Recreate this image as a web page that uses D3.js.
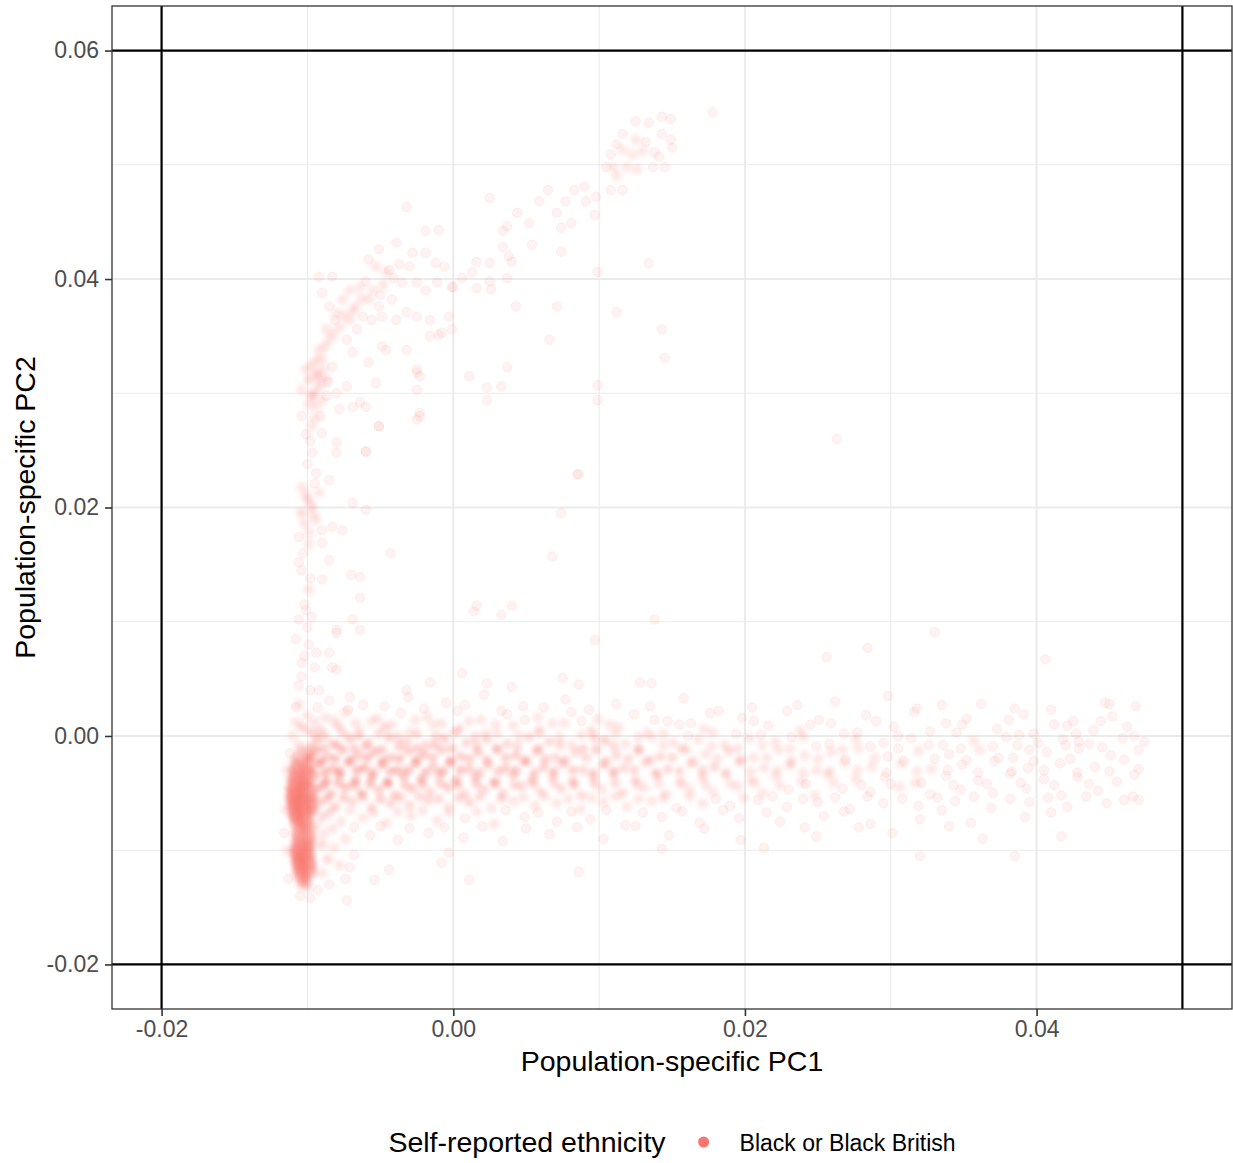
<!DOCTYPE html>
<html>
<head>
<meta charset="utf-8">
<script src="https://cdn.jsdelivr.net/npm/d3@7"></script>
<style>
  body { margin: 0; background: #fff; }
  text { font-family: "Liberation Sans", Arial, sans-serif; }
</style>
</head>
<body>
<div id="chart"></div>
<script>
var width = 1233;
var height = 1163;

// axis setup
var xDomain = [-0.0234, 0.0534];
var yDomain = [-0.0239, 0.0639];
var xMajor = [-0.02, 0.00, 0.02, 0.04];
var yMajor = [-0.02, 0.00, 0.02, 0.04, 0.06];
var xMinor = [-0.01, 0.01, 0.03, 0.05];
var yMinor = [-0.01, 0.01, 0.03, 0.05];
var vLines = [-0.02, 0.05];
var hLines = [-0.02, 0.06];

var xTitle = "Population-specific PC1";
var yTitle = "Population-specific PC2";
var legendTitle = "Self-reported ethnicity";
var groups = ["Black or Black British"];
var groupColour = "#F8766D";

// points as [PC1, PC2, n] where n = how many samples overlap on that spot
var spine = [
  [-0.0106,-0.0008,2],[-0.0101,-0.0012,3],[-0.0105,-0.0013,3],[-0.0100,-0.0016,3],
  [-0.0107,-0.0018,4],[-0.0102,-0.0020,5],[-0.0097,-0.0017,3],
  [-0.0109,-0.0022,5],[-0.0104,-0.0024,7],[-0.0099,-0.0021,4],
  [-0.0108,-0.0026,6],[-0.0103,-0.0028,8],[-0.0098,-0.0025,4],
  [-0.0110,-0.0030,7],[-0.0105,-0.0032,10],[-0.0100,-0.0029,6],
  [-0.0109,-0.0034,8],[-0.0104,-0.0036,10],[-0.0099,-0.0033,6],
  [-0.0111,-0.0038,8],[-0.0106,-0.0040,12],[-0.0101,-0.0037,8],
  [-0.0110,-0.0042,9],[-0.0105,-0.0044,13],[-0.0100,-0.0041,8],
  [-0.0112,-0.0046,9],[-0.0107,-0.0048,15],[-0.0102,-0.0045,10],[-0.0097,-0.0047,5],
  [-0.0111,-0.0050,10],[-0.0106,-0.0052,16],[-0.0101,-0.0049,10],[-0.0096,-0.0053,5],
  [-0.0112,-0.0054,10],[-0.0107,-0.0056,17],[-0.0102,-0.0053,12],[-0.0097,-0.0057,6],
  [-0.0111,-0.0058,11],[-0.0106,-0.0060,17],[-0.0101,-0.0057,11],[-0.0096,-0.0061,5],
  [-0.0111,-0.0062,10],[-0.0106,-0.0064,17],[-0.0101,-0.0061,12],[-0.0096,-0.0065,5],
  [-0.0110,-0.0066,10],[-0.0105,-0.0068,16],[-0.0100,-0.0065,10],
  [-0.0110,-0.0070,9],[-0.0105,-0.0072,14],[-0.0100,-0.0069,9],
  [-0.0109,-0.0074,8],[-0.0104,-0.0076,12],[-0.0099,-0.0073,7],
  [-0.0108,-0.0078,6],[-0.0103,-0.0080,10],[-0.0099,-0.0077,6],
  [-0.0107,-0.0082,5],[-0.0102,-0.0084,7],[-0.0098,-0.0081,4],
  [-0.0108,-0.0086,6],[-0.0103,-0.0088,8],[-0.0098,-0.0085,5],
  [-0.0107,-0.0090,7],[-0.0102,-0.0092,9],[-0.0097,-0.0089,5],
  [-0.0108,-0.0094,8],[-0.0103,-0.0096,12],[-0.0098,-0.0093,7],
  [-0.0108,-0.0098,10],[-0.0103,-0.0100,14],[-0.0098,-0.0097,8],
  [-0.0109,-0.0102,10],[-0.0104,-0.0104,15],[-0.0099,-0.0101,9],
  [-0.0108,-0.0106,11],[-0.0103,-0.0108,16],[-0.0098,-0.0105,9],
  [-0.0108,-0.0110,11],[-0.0103,-0.0112,16],[-0.0098,-0.0109,8],
  [-0.0107,-0.0114,10],[-0.0102,-0.0116,14],[-0.0097,-0.0113,7],
  [-0.0107,-0.0118,9],[-0.0102,-0.0120,12],[-0.0097,-0.0117,6],
  [-0.0106,-0.0122,7],[-0.0101,-0.0124,9],[-0.0097,-0.0121,4],
  [-0.0105,-0.0126,5],[-0.0101,-0.0128,6],
  [-0.0104,-0.0130,4],[-0.0100,-0.0132,3]
];

var spineFringe = [
  [-0.0114,-0.0030,2],[-0.0115,-0.0065,2],[-0.0114,-0.0100,2],[-0.0113,-0.0125,1],
  [-0.0112,-0.0015,1],[-0.0116,-0.0085,1],
  [-0.0090,-0.0095,3],[-0.0086,-0.0108,3],[-0.0090,-0.0120,2],[-0.0082,-0.0098,2],
  [-0.0078,-0.0113,2],[-0.0074,-0.0125,1],[-0.0085,-0.0130,1],[-0.0068,-0.0104,1],
  [-0.0093,-0.0135,1],[-0.0105,-0.0140,1],[-0.0098,-0.0142,1]
];

var band = [
  [-0.0085,0.0031,1],[-0.0062,0.0027,1],[-0.0031,0.0034,1],[-0.0005,0.0029,1],[0.0021,0.0036,1],[0.0048,0.0026,1],[0.0077,0.0032,1],[0.0112,0.0028,1],[0.0158,0.0033,1],[0.0205,0.0025,1],[0.0262,0.0030,1],[0.0298,0.0035,1],[0.0335,0.0027,1],[0.0385,0.0024,1],[0.0447,0.0029,1],[0.0468,0.0026,1],
  [-0.0093,0.0025,1],[-0.0072,0.0023,1],[-0.0047,0.0026,1],[-0.0020,0.0024,1],[0.0008,0.0027,1],[0.0033,0.0022,1],[0.0062,0.0025,1],[0.0093,0.0023,1],[0.0135,0.0026,1],[0.0182,0.0022,1],[0.0236,0.0027,1],[0.0318,0.0024,1],[0.0362,0.0028,1],[0.0410,0.0023,1],
  [-0.0088,0.0016,2],[-0.0074,0.0021,2],[-0.0052,0.0015,2],[-0.0036,0.0020,1],[-0.0018,0.0017,2],[0.0003,0.0022,1],[0.0019,0.0014,2],[0.0037,0.0019,1],[0.0058,0.0016,2],[0.0081,0.0021,1],[0.0099,0.0015,2],[0.0124,0.0019,1],[0.0147,0.0013,1],[0.0176,0.0020,1],[0.0198,0.0016,1],[0.0229,0.0022,1],[0.0251,0.0014,1],[0.0283,0.0018,1],[0.0316,0.0021,1],[0.0352,0.0015,1],[0.0391,0.0019,1],[0.0425,0.0013,1],[0.0452,0.0017,1],
  [-0.0095,0.0012,2],[-0.0082,0.0014,2],[-0.0067,0.0011,2],[-0.0056,0.0013,2],[-0.0042,0.0010,2],[-0.0026,0.0014,2],[-0.0008,0.0011,2],[0.0011,0.0013,2],[0.0029,0.0010,2],[0.0049,0.0014,1],[0.0068,0.0011,2],[0.0088,0.0013,1],[0.0107,0.0010,2],[0.0138,0.0014,1],[0.0163,0.0011,1],[0.0206,0.0013,1],[0.0245,0.0010,1],[0.0290,0.0013,1],[0.0338,0.0011,1],[0.0381,0.0014,1],[0.0412,0.0010,1],[0.0444,0.0013,1],
  [-0.0091,0.0005,3],[-0.0079,0.0009,3],[-0.0064,0.0004,2],[-0.0047,0.0008,3],[-0.0030,0.0003,2],[-0.0014,0.0010,2],[0.0004,0.0006,3],[0.0022,0.0002,2],[0.0041,0.0009,2],[0.0059,0.0005,2],[0.0076,0.0011,2],[0.0095,0.0004,3],[0.0113,0.0008,2],[0.0133,0.0003,2],[0.0155,0.0010,1],[0.0172,0.0006,2],[0.0194,0.0002,1],[0.0216,0.0009,1],[0.0238,0.0005,2],[0.0259,0.0011,1],[0.0277,0.0003,1],[0.0302,0.0008,1],[0.0327,0.0004,1],[0.0349,0.0010,1],[0.0373,0.0006,1],[0.0398,0.0002,1],[0.0421,0.0009,1],[0.0439,0.0005,1],[0.0462,0.0008,1],
  [-0.0096,0.0002,3],[-0.0088,0.0000,3],[-0.0076,0.0003,3],[-0.0065,0.0000,3],[-0.0051,0.0002,3],[-0.0038,-0.0001,3],[-0.0025,0.0002,3],[-0.0012,0.0000,3],[0.0001,0.0003,3],[0.0015,-0.0001,3],[0.0030,0.0002,2],[0.0045,0.0000,2],[0.0059,0.0003,2],[0.0073,-0.0001,2],[0.0088,0.0001,2],[0.0111,0.0002,2],[0.0127,-0.0001,2],[0.0144,0.0002,2],[0.0161,0.0000,1],[0.0178,0.0003,2],[0.0211,0.0001,1],[0.0232,-0.0001,1],[0.0268,0.0002,1],[0.0305,0.0000,1],[0.0345,0.0003,1],[0.0388,0.0001,1],[0.0427,0.0002,1],[0.0467,0.0000,1],
  [-0.0093,-0.0003,4],[-0.0083,-0.0007,3],[-0.0071,-0.0002,4],[-0.0058,-0.0006,3],[-0.0044,-0.0001,4],[-0.0032,-0.0005,3],[-0.0019,-0.0008,3],[-0.0006,-0.0002,4],[0.0009,-0.0006,3],[0.0023,-0.0003,3],[0.0037,-0.0007,3],[0.0052,-0.0001,3],[0.0066,-0.0005,3],[0.0081,-0.0008,2],[0.0097,-0.0002,3],[0.0104,-0.0004,4],[0.0118,-0.0007,2],[0.0136,-0.0001,2],[0.0151,-0.0006,2],[0.0168,-0.0003,2],[0.0186,-0.0008,2],[0.0203,-0.0002,2],[0.0221,-0.0005,2],[0.0240,-0.0001,2],[0.0258,-0.0007,1],[0.0276,-0.0003,2],[0.0295,-0.0006,1],[0.0314,-0.0002,1],[0.0336,-0.0008,1],[0.0357,-0.0004,2],[0.0379,-0.0001,1],[0.0401,-0.0006,1],[0.0418,-0.0003,1],[0.0436,-0.0007,1],[0.0459,-0.0002,1],[0.0474,-0.0005,1],
  [-0.0097,-0.0009,4],[-0.0089,-0.0011,4],[-0.0080,-0.0008,4],[-0.0068,-0.0011,4],[-0.0060,-0.0009,4],[-0.0049,-0.0012,4],[-0.0037,-0.0009,4],[-0.0025,-0.0011,4],[-0.0013,-0.0008,4],[-0.0001,-0.0011,4],[0.0016,-0.0009,3],[0.0030,-0.0012,3],[0.0044,-0.0009,3],[0.0059,-0.0011,3],[0.0073,-0.0008,3],[0.0089,-0.0011,3],[0.0110,-0.0009,3],[0.0127,-0.0011,3],[0.0144,-0.0008,2],[0.0160,-0.0012,2],[0.0177,-0.0009,2],[0.0195,-0.0011,2],[0.0212,-0.0008,2],[0.0231,-0.0011,2],[0.0249,-0.0009,1],[0.0267,-0.0012,2],[0.0286,-0.0009,1],[0.0305,-0.0011,1],[0.0326,-0.0008,1],[0.0348,-0.0011,1],[0.0370,-0.0009,1],[0.0395,-0.0012,1],[0.0420,-0.0008,1],[0.0445,-0.0010,1],[0.0470,-0.0012,1],
  [-0.0094,-0.0013,5],[-0.0086,-0.0018,4],[-0.0076,-0.0012,5],[-0.0065,-0.0017,4],[-0.0054,-0.0014,5],[-0.0043,-0.0019,4],[-0.0031,-0.0013,4],[-0.0020,-0.0016,5],[-0.0008,-0.0012,4],[0.0005,-0.0018,4],[0.0017,-0.0014,4],[0.0030,-0.0011,3],[0.0043,-0.0017,4],[0.0057,-0.0013,4],[0.0070,-0.0019,3],[0.0084,-0.0014,3],[0.0098,-0.0012,4],[0.0112,-0.0017,3],[0.0127,-0.0013,3],[0.0142,-0.0018,3],[0.0157,-0.0011,3],[0.0173,-0.0016,2],[0.0189,-0.0013,3],[0.0206,-0.0019,2],[0.0223,-0.0012,2],[0.0241,-0.0017,2],[0.0259,-0.0014,2],[0.0278,-0.0011,2],[0.0298,-0.0018,1],[0.0319,-0.0013,2],[0.0340,-0.0016,1],[0.0361,-0.0012,2],[0.0384,-0.0019,1],[0.0407,-0.0014,1],[0.0429,-0.0011,1],[0.0451,-0.0017,1],
  [-0.0098,-0.0019,5],[-0.0090,-0.0022,5],[-0.0081,-0.0020,5],[-0.0070,-0.0021,5],[-0.0059,-0.0019,5],[-0.0048,-0.0022,5],[-0.0037,-0.0020,5],[-0.0025,-0.0021,5],[-0.0014,-0.0019,4],[-0.0002,-0.0022,4],[0.0011,-0.0020,4],[0.0023,-0.0021,4],[0.0036,-0.0019,4],[0.0050,-0.0022,4],[0.0063,-0.0020,4],[0.0077,-0.0021,3],[0.0091,-0.0019,3],[0.0105,-0.0022,3],[0.0120,-0.0020,3],[0.0135,-0.0021,3],[0.0150,-0.0019,3],[0.0165,-0.0022,2],[0.0181,-0.0020,2],[0.0198,-0.0021,2],[0.0215,-0.0019,2],[0.0232,-0.0022,2],[0.0250,-0.0020,2],[0.0269,-0.0021,1],[0.0289,-0.0019,2],[0.0309,-0.0022,1],[0.0330,-0.0020,1],[0.0352,-0.0021,1],[0.0374,-0.0019,1],[0.0398,-0.0022,1],[0.0423,-0.0020,1],[0.0460,-0.0021,1],
  [-0.0092,-0.0024,6],[-0.0083,-0.0029,5],[-0.0072,-0.0023,5],[-0.0061,-0.0028,6],[-0.0049,-0.0025,5],[-0.0038,-0.0030,5],[-0.0026,-0.0024,5],[-0.0014,-0.0027,4],[-0.0002,-0.0023,5],[0.0011,-0.0029,4],[0.0024,-0.0025,4],[0.0036,-0.0028,4],[0.0049,-0.0022,4],[0.0062,-0.0027,4],[0.0075,-0.0024,4],[0.0089,-0.0030,3],[0.0103,-0.0025,4],[0.0117,-0.0028,3],[0.0132,-0.0023,3],[0.0147,-0.0029,3],[0.0163,-0.0024,3],[0.0179,-0.0027,3],[0.0196,-0.0022,3],[0.0213,-0.0028,2],[0.0231,-0.0025,3],[0.0249,-0.0030,2],[0.0268,-0.0023,2],[0.0287,-0.0027,2],[0.0307,-0.0024,2],[0.0328,-0.0029,2],[0.0349,-0.0025,1],[0.0371,-0.0022,1],[0.0394,-0.0028,1],[0.0416,-0.0024,1],[0.0440,-0.0027,1],
  [-0.0097,-0.0030,6],[-0.0088,-0.0032,6],[-0.0078,-0.0031,6],[-0.0066,-0.0030,6],[-0.0055,-0.0032,5],[-0.0043,-0.0031,5],[-0.0031,-0.0030,5],[-0.0019,-0.0032,5],[-0.0007,-0.0031,5],[0.0005,-0.0030,5],[0.0018,-0.0032,4],[0.0031,-0.0031,4],[0.0043,-0.0030,4],[0.0056,-0.0032,4],[0.0069,-0.0031,4],[0.0082,-0.0030,4],[0.0096,-0.0032,3],[0.0110,-0.0031,3],[0.0124,-0.0030,3],[0.0139,-0.0032,3],[0.0155,-0.0031,3],[0.0171,-0.0030,3],[0.0187,-0.0032,2],[0.0204,-0.0031,2],[0.0222,-0.0030,2],[0.0240,-0.0032,2],[0.0258,-0.0031,2],[0.0277,-0.0030,2],[0.0297,-0.0032,1],[0.0318,-0.0031,2],[0.0339,-0.0030,1],[0.0360,-0.0032,1],[0.0383,-0.0031,1],[0.0405,-0.0030,1],[0.0428,-0.0032,1],[0.0450,-0.0031,1],[0.0470,-0.0029,1],
  [-0.0095,-0.0035,6],[-0.0087,-0.0040,6],[-0.0078,-0.0034,5],[-0.0067,-0.0039,6],[-0.0056,-0.0036,5],[-0.0045,-0.0041,5],[-0.0034,-0.0035,5],[-0.0022,-0.0038,5],[-0.0010,-0.0033,4],[0.0002,-0.0039,5],[0.0015,-0.0036,4],[0.0028,-0.0041,4],[0.0041,-0.0034,4],[0.0054,-0.0038,4],[0.0068,-0.0035,3],[0.0082,-0.0040,4],[0.0096,-0.0036,3],[0.0110,-0.0033,3],[0.0125,-0.0039,3],[0.0140,-0.0035,3],[0.0155,-0.0041,2],[0.0171,-0.0036,3],[0.0187,-0.0034,2],[0.0204,-0.0039,2],[0.0221,-0.0035,2],[0.0239,-0.0040,2],[0.0257,-0.0034,2],[0.0276,-0.0038,2],[0.0296,-0.0036,1],[0.0317,-0.0041,2],[0.0338,-0.0035,1],[0.0360,-0.0039,1],[0.0382,-0.0033,1],[0.0405,-0.0038,1],[0.0428,-0.0036,1],[0.0455,-0.0040,1],
  [-0.0098,-0.0042,6],[-0.0089,-0.0043,5],[-0.0079,-0.0041,5],[-0.0068,-0.0043,5],[-0.0057,-0.0042,5],[-0.0045,-0.0041,5],[-0.0033,-0.0043,4],[-0.0021,-0.0042,4],[-0.0009,-0.0041,4],[0.0003,-0.0043,4],[0.0016,-0.0042,4],[0.0029,-0.0041,4],[0.0042,-0.0043,3],[0.0055,-0.0042,3],[0.0069,-0.0041,3],[0.0083,-0.0043,3],[0.0097,-0.0042,3],[0.0111,-0.0041,3],[0.0126,-0.0043,2],[0.0141,-0.0042,2],[0.0157,-0.0041,2],[0.0173,-0.0043,2],[0.0190,-0.0042,2],[0.0207,-0.0041,2],[0.0224,-0.0043,2],[0.0242,-0.0042,1],[0.0261,-0.0041,2],[0.0280,-0.0043,1],[0.0300,-0.0042,1],[0.0321,-0.0041,1],[0.0343,-0.0043,1],[0.0366,-0.0042,1],[0.0389,-0.0041,1],[0.0412,-0.0043,1],[0.0436,-0.0042,1],
  [-0.0093,-0.0046,5],[-0.0084,-0.0051,5],[-0.0074,-0.0045,5],[-0.0063,-0.0050,4],[-0.0051,-0.0047,4],[-0.0040,-0.0052,4],[-0.0028,-0.0046,4],[-0.0016,-0.0049,3],[-0.0004,-0.0045,4],[0.0008,-0.0051,3],[0.0021,-0.0047,3],[0.0034,-0.0050,3],[0.0047,-0.0044,3],[0.0060,-0.0049,3],[0.0074,-0.0046,3],[0.0088,-0.0052,3],[0.0102,-0.0047,2],[0.0116,-0.0050,3],[0.0131,-0.0045,2],[0.0146,-0.0051,2],[0.0162,-0.0047,2],[0.0178,-0.0049,2],[0.0195,-0.0044,2],[0.0212,-0.0050,2],[0.0230,-0.0047,1],[0.0248,-0.0052,2],[0.0267,-0.0046,1],[0.0286,-0.0049,1],[0.0306,-0.0045,2],[0.0327,-0.0051,1],[0.0348,-0.0047,1],[0.0370,-0.0050,1],[0.0393,-0.0046,1],[0.0417,-0.0052,1],[0.0442,-0.0048,1],[0.0466,-0.0053,1],
  [-0.0097,-0.0053,5],[-0.0087,-0.0055,4],[-0.0075,-0.0054,4],[-0.0062,-0.0053,4],[-0.0050,-0.0055,4],[-0.0036,-0.0054,3],[-0.0023,-0.0053,3],[-0.0010,-0.0055,3],[0.0004,-0.0054,3],[0.0018,-0.0053,3],[0.0033,-0.0055,3],[0.0048,-0.0054,2],[0.0063,-0.0053,2],[0.0079,-0.0055,2],[0.0095,-0.0054,2],[0.0111,-0.0053,2],[0.0127,-0.0055,2],[0.0144,-0.0054,2],[0.0162,-0.0053,2],[0.0180,-0.0055,1],[0.0199,-0.0054,2],[0.0219,-0.0053,1],[0.0240,-0.0055,1],[0.0262,-0.0054,1],[0.0284,-0.0053,1],[0.0308,-0.0055,1],[0.0332,-0.0054,1],[0.0357,-0.0053,1],[0.0382,-0.0055,1],[0.0408,-0.0054,1],[0.0434,-0.0053,1],[0.0460,-0.0056,1],
  [-0.0092,-0.0058,4],[-0.0081,-0.0062,4],[-0.0069,-0.0057,3],[-0.0056,-0.0063,3],[-0.0043,-0.0059,3],[-0.0030,-0.0061,3],[-0.0017,-0.0056,3],[-0.0003,-0.0062,2],[0.0011,-0.0058,3],[0.0026,-0.0063,2],[0.0041,-0.0057,2],[0.0056,-0.0061,2],[0.0071,-0.0059,2],[0.0087,-0.0064,2],[0.0103,-0.0058,2],[0.0119,-0.0062,2],[0.0136,-0.0057,2],[0.0153,-0.0063,1],[0.0171,-0.0059,2],[0.0190,-0.0061,1],[0.0209,-0.0056,1],[0.0229,-0.0062,1],[0.0250,-0.0058,1],[0.0272,-0.0064,1],[0.0295,-0.0059,1],[0.0319,-0.0061,1],[0.0344,-0.0057,1],[0.0369,-0.0063,1],[0.0395,-0.0058,1],[0.0421,-0.0062,1],[0.0448,-0.0059,1],
  [-0.0096,-0.0066,3],[-0.0085,-0.0067,3],[-0.0071,-0.0065,2],[-0.0055,-0.0067,2],[-0.0038,-0.0066,2],[-0.0021,-0.0065,2],[-0.0003,-0.0067,2],[0.0016,-0.0066,2],[0.0036,-0.0065,1],[0.0058,-0.0067,1],[0.0081,-0.0066,1],[0.0105,-0.0065,1],[0.0130,-0.0067,1],[0.0157,-0.0066,1],[0.0185,-0.0065,1],[0.0215,-0.0067,1],[0.0268,-0.0066,1],[0.0335,-0.0065,1],[0.0410,-0.0067,1],
  [-0.0090,-0.0071,3],[-0.0077,-0.0075,2],[-0.0062,-0.0072,2],[-0.0046,-0.0076,2],[-0.0029,-0.0070,2],[-0.0011,-0.0074,2],[0.0008,-0.0072,1],[0.0028,-0.0077,2],[0.0049,-0.0071,1],[0.0071,-0.0075,1],[0.0094,-0.0073,1],[0.0118,-0.0078,1],[0.0143,-0.0071,1],[0.0169,-0.0076,1],[0.0196,-0.0072,1],[0.0224,-0.0075,1],[0.0254,-0.0070,1],[0.0286,-0.0077,1],[0.0320,-0.0073,1],[0.0355,-0.0076,1],[0.0392,-0.0071,1],
  [-0.0094,-0.0079,2],[-0.0083,-0.0081,2],[-0.0068,-0.0080,1],[-0.0050,-0.0079,1],[-0.0030,-0.0081,1],[-0.0006,-0.0080,1],[0.0020,-0.0079,1],[0.0050,-0.0081,1],[0.0085,-0.0080,1],[0.0125,-0.0079,1],[0.0172,-0.0081,1],[0.0278,-0.0080,1],[0.0340,-0.0079,1],
  [-0.0089,-0.0086,2],[-0.0074,-0.0090,2],[-0.0057,-0.0087,1],[-0.0038,-0.0091,1],[-0.0017,-0.0085,1],[0.0007,-0.0089,1],[0.0034,-0.0092,1],[0.0066,-0.0086,1],[0.0103,-0.0090,1],[0.0148,-0.0087,1],[0.0197,-0.0091,1],[0.0249,-0.0088,1],[0.0301,-0.0085,1],[0.0363,-0.0090,1]
];

var bandHalo = [
  [-0.0016,0.0047,1],[-0.0032,0.0040,1],[0.0023,0.0046,1],[0.0040,0.0043,1],[0.0006,0.0055,1],
  [0.0075,0.0051,1],[0.0086,0.0045,1],[0.0128,0.0047,1],[0.0136,0.0046,1],
  [-0.0080,0.0090,1],[-0.0083,0.0060,1],[-0.0071,0.0034,1],
  [0.0097,0.0084,1],[0.0138,0.0102,1],[0.0330,0.0091,1],[0.0284,0.0077,1],[0.0256,0.0069,1],
  [0.0016,0.0114,1],[0.0040,0.0114,1],[0.0014,0.0109,1],[-0.0064,0.0093,1],
  [-0.0085,0.0154,1],[-0.0070,0.0141,1],[-0.0043,0.0160,1],[0.0068,0.0157,1],[0.0074,0.0195,1],
  [0.0033,0.0106,1],[0.0263,0.0260,1],[0.0086,0.0229,1],
  [-0.0071,-0.0115,1],[-0.0054,-0.0126,1],[-0.0044,-0.0117,1],[0.0011,-0.0126,1],[-0.0008,-0.0111,1],
  [-0.0003,-0.0102,1],[0.0086,-0.0119,1],[-0.0073,-0.0144,1],[0.0143,-0.0099,1],[0.0213,-0.0098,1],
  [0.0241,-0.0080,1],[0.0320,-0.0105,1],[0.0385,-0.0105,1],[0.0417,-0.0088,1],[0.0470,-0.0056,1],
  [0.0467,-0.0034,1],[0.0450,0.0028,1],[0.0406,0.0067,1],[0.0429,-0.0005,1],[0.0387,-0.0008,1]
];

var arm = [
  [-0.0110,0.0000,2],[-0.0100,0.0005,2],[-0.0108,0.0012,2],
  [-0.0104,0.0008,3],[-0.0100,0.0018,2],[-0.0106,0.0028,2],[-0.0098,0.0040,1],[-0.0104,0.0052,1],
  [-0.0094,0.0073,1],[-0.0104,0.0064,1],[-0.0085,0.0073,1],[-0.0080,0.0058,1],[-0.0108,0.0085,1],
  [-0.0100,0.0095,1],[-0.0092,0.0040,1],[-0.0108,0.0025,1],
  [-0.0106,0.0044,1],[-0.0102,0.0070,1],[-0.0099,0.0080,1],[-0.0106,0.0102,1],[-0.0095,0.0060,1],
  [-0.0099,0.0128,2],[-0.0101,0.0110,1],[-0.0097,0.0104,1],[-0.0104,0.0145,1],[-0.0106,0.0152,1],
  [-0.0090,0.0137,1],[-0.0080,0.0093,1],[-0.0064,0.0139,1],[-0.0064,0.0121,1],[-0.0069,0.0102,1],
  [-0.0102,0.0115,1],[-0.0098,0.0138,1],[-0.0103,0.0160,1],[-0.0099,0.0168,2],[-0.0102,0.0186,2],
  [-0.0096,0.0194,2],[-0.0101,0.0212,2],[-0.0095,0.0221,1],[-0.0100,0.0238,1],[-0.0098,0.0258,1],
  [-0.0100,0.0207,3],[-0.0104,0.0195,3],[-0.0097,0.0201,3],[-0.0094,0.0189,2],[-0.0099,0.0178,2],
  [-0.0106,0.0174,1],[-0.0092,0.0213,2],[-0.0104,0.0218,2],[-0.0090,0.0180,1],[-0.0083,0.0183,1],
  [-0.0076,0.0180,1],[-0.0069,0.0204,1],[-0.0060,0.0198,1],[-0.0090,0.0169,1],[-0.0085,0.0224,1],
  [-0.0094,0.0230,1],[-0.0097,0.0248,1],[-0.0080,0.0248,1],[-0.0060,0.0249,1],[-0.0080,0.0257,1],
  [-0.0101,0.0264,1],[-0.0095,0.0278,2],[-0.0099,0.0290,2],[-0.0096,0.0300,3],[-0.0092,0.0314,3],
  [-0.0097,0.0325,2],[-0.0089,0.0321,2],[-0.0087,0.0298,1],[-0.0091,0.0280,1],[-0.0086,0.0310,1],
  [-0.0097,0.0271,2],[-0.0104,0.0280,1],[-0.0090,0.0265,1],[-0.0078,0.0286,1],[-0.0069,0.0288,1],
  [-0.0060,0.0288,1],[-0.0051,0.0271,1],
  [-0.0094,0.0318,3],[-0.0099,0.0312,3],[-0.0092,0.0306,3],[-0.0097,0.0297,3],[-0.0090,0.0294,2],
  [-0.0101,0.0321,2],[-0.0087,0.0312,2],[-0.0094,0.0329,2],[-0.0104,0.0303,2],[-0.0094,0.0288,2],
  [-0.0080,0.0300,1],[-0.0073,0.0306,1],[-0.0083,0.0323,1],[-0.0064,0.0292,1],[-0.0053,0.0309,1],
  [-0.0058,0.0327,1]
];

var curve = [
  [-0.0090,0.0330,2],[-0.0088,0.0341,2],[-0.0082,0.0352,2],[-0.0075,0.0368,2],[-0.0069,0.0372,2],
  [-0.0063,0.0383,2],[-0.0055,0.0390,2],[-0.0048,0.0395,2],[-0.0041,0.0401,1],[-0.0037,0.0413,1],
  [-0.0081,0.0364,1],[-0.0066,0.0356,1],[-0.0060,0.0398,1],[-0.0050,0.0386,1],
  [-0.0092,0.0338,2],[-0.0085,0.0347,2],[-0.0087,0.0356,2],[-0.0078,0.0358,2],[-0.0073,0.0347,1],
  [-0.0071,0.0364,2],[-0.0080,0.0370,2],[-0.0085,0.0376,1],[-0.0076,0.0382,2],[-0.0067,0.0376,2],
  [-0.0062,0.0367,1],[-0.0058,0.0382,2],[-0.0051,0.0376,1],[-0.0049,0.0367,1],[-0.0056,0.0364,1],
  [-0.0042,0.0382,1],[-0.0090,0.0388,1],[-0.0092,0.0402,1],[-0.0083,0.0402,1],[-0.0071,0.0390,2],
  [-0.0064,0.0393,2],[-0.0058,0.0417,1],[-0.0053,0.0411,2],[-0.0046,0.0406,2],[-0.0051,0.0426,1],
  [-0.0039,0.0432,1],[-0.0044,0.0408,1],[-0.0035,0.0397,1],[-0.0030,0.0411,1],[-0.0025,0.0397,1],
  [-0.0019,0.0390,1],[-0.0016,0.0364,1],[-0.0008,0.0353,1],[-0.0012,0.0414,1],[-0.0028,0.0423,1],
  [-0.0003,0.0367,1],[-0.0019,0.0423,1],[0.0000,0.0393,1],[-0.0025,0.0367,1],[-0.0039,0.0364,1],
  [-0.0049,0.0341,1],[-0.0069,0.0336,1],[-0.0046,0.0338,1],[-0.0032,0.0338,1],[-0.0025,0.0321,1],
  [-0.0023,0.0315,1],[-0.0025,0.0277,1],[-0.0023,0.0283,1],[0.0011,0.0315,1],[-0.0016,0.0350,1],
  [-0.0032,0.0463,1],[-0.0019,0.0442,1],[-0.0010,0.0443,1],[-0.0006,0.0411,1],[-0.0011,0.0397,1],
  [-0.0001,0.0393,1],[-0.0032,0.0371,1],[-0.0001,0.0356,1],[-0.0010,0.0351,1],
  [-0.0025,0.0318,1],[-0.0025,0.0303,1],[-0.0023,0.0280,1],[-0.0051,0.0271,1],[-0.0060,0.0249,1],
  [0.0023,0.0305,1],[0.0033,0.0306,1],[0.0023,0.0294,1],[0.0037,0.0323,1],[0.0043,0.0376,1],
  [0.0066,0.0347,1],[0.0071,0.0376,1],[0.0085,0.0229,1],[0.0099,0.0406,1],[0.0099,0.0307,1],
  [0.0099,0.0294,1],[0.0112,0.0371,1],[0.0134,0.0414,1],[0.0143,0.0356,1],[0.0145,0.0331,1],
  [0.0006,0.0401,1],[0.0016,0.0392,1],[0.0026,0.0391,1],[0.0025,0.0398,1],[0.0037,0.0401,1],
  [0.0016,0.0415,1],[0.0025,0.0414,1],[0.0013,0.0406,1],[0.0040,0.0415,1],[0.0034,0.0428,1],
  [0.0038,0.0420,1],[0.0034,0.0442,1],[0.0037,0.0446,1],[0.0025,0.0471,1],[0.0044,0.0458,1],
  [0.0052,0.0449,1],[0.0054,0.0430,1],[0.0059,0.0468,1],[0.0065,0.0478,1],[0.0071,0.0458,1],
  [0.0074,0.0445,1],[0.0081,0.0449,1],[0.0074,0.0424,1],[0.0077,0.0468,1],[0.0083,0.0478,1],
  [0.0090,0.0481,1],[0.0091,0.0468,1],[0.0098,0.0472,1],[0.0097,0.0456,1],[0.0108,0.0478,1],
  [0.0112,0.0490,2],[0.0116,0.0478,1],[0.0110,0.0498,2],[0.0105,0.0498,1],[0.0119,0.0498,2],
  [0.0126,0.0496,2],[0.0137,0.0498,1],[0.0145,0.0498,1],[0.0123,0.0509,2],[0.0116,0.0513,2],
  [0.0130,0.0512,2],[0.0138,0.0511,1],[0.0112,0.0518,1],[0.0125,0.0522,2],[0.0132,0.0520,1],
  [0.0143,0.0527,1],[0.0149,0.0522,1],[0.0150,0.0515,1],[0.0116,0.0527,1],[0.0125,0.0538,1],
  [0.0134,0.0537,1],[0.0143,0.0542,1],[0.0149,0.0540,1],[0.0141,0.0507,1],[0.0108,0.0509,1],
  [0.0178,0.0546,1]
];

var pointAlpha = 0.09;

var margin = {left: 112, right: 1, top: 6, bottom: 154};
var plotW = width - margin.left - margin.right;
var plotH = height - margin.top - margin.bottom;

var svg = d3.select("#chart")
    .append("svg")
    .attr("width", width)
    .attr("height", height);

var x = d3.scaleLinear().domain(xDomain).range([0, plotW]);
var y = d3.scaleLinear().domain(yDomain).range([plotH, 0]);

var g = svg.append("g")
    .attr("transform", "translate(" + margin.left + "," + margin.top + ")");

var defs = g.append("defs");
defs.append("clipPath").attr("id", "panel")
    .append("rect").attr("width", plotW).attr("height", plotH);
// soften the stacked spots so they read as a cloud of overlapping markers
defs.append("filter").attr("id", "soft")
    .attr("x", "-5%").attr("y", "-5%").attr("width", "110%").attr("height", "110%")
    .append("feGaussianBlur").attr("stdDeviation", 2.2);

// grid lines, minor first
g.selectAll(".xminor").data(xMinor).enter().append("line")
    .attr("x1", d => x(d)).attr("x2", d => x(d))
    .attr("y1", 0).attr("y2", plotH)
    .style("stroke", "#ebebeb").style("stroke-width", 1.1);
g.selectAll(".yminor").data(yMinor).enter().append("line")
    .attr("y1", d => y(d)).attr("y2", d => y(d))
    .attr("x1", 0).attr("x2", plotW)
    .style("stroke", "#ebebeb").style("stroke-width", 1.1);
g.selectAll(".xmajor").data(xMajor).enter().append("line")
    .attr("x1", d => x(d)).attr("x2", d => x(d))
    .attr("y1", 0).attr("y2", plotH)
    .style("stroke", "#ebebeb").style("stroke-width", 2.1);
g.selectAll(".ymajor").data(yMajor).enter().append("line")
    .attr("y1", d => y(d)).attr("y2", d => y(d))
    .attr("x1", 0).attr("x2", plotW)
    .style("stroke", "#ebebeb").style("stroke-width", 2.1);

// points
var allPoints = spineFringe.concat(band, bandHalo, arm, curve, spine);
function opacity(n) { return 1 - Math.pow(1 - pointAlpha, n); }

var pts = g.append("g").attr("clip-path", "url(#panel)");

function drawPoints(layer, data) {
    layer.selectAll("circle")
        .data(data)
        .enter().append("circle")
        .attr("cx", d => x(d[0]))
        .attr("cy", d => y(d[1]))
        .attr("r", 4.8)
        .style("fill", groupColour)
        .style("fill-opacity", d => opacity(d[2]))
        .style("stroke", groupColour)
        .style("stroke-opacity", pointAlpha)
        .style("stroke-width", 1);
}
drawPoints(pts.append("g").attr("filter", "url(#soft)"), allPoints.filter(d => d[2] > 1));
drawPoints(pts.append("g"), allPoints.filter(d => d[2] === 1));

// reference lines
g.selectAll(".vref").data(vLines).enter().append("line")
    .attr("x1", d => x(d)).attr("x2", d => x(d))
    .attr("y1", 0).attr("y2", plotH)
    .style("stroke", "#000").style("stroke-width", 2.2);
g.selectAll(".href").data(hLines).enter().append("line")
    .attr("y1", d => y(d)).attr("y2", d => y(d))
    .attr("x1", 0).attr("x2", plotW)
    .style("stroke", "#000").style("stroke-width", 2.2);

// panel border
g.append("rect")
    .attr("width", plotW).attr("height", plotH)
    .style("fill", "none").style("stroke", "#333").style("stroke-width", 1.3);

// axes (plain hyphen for negatives, like the original)
var fmt = d => d3.format(".2f")(d).replace("\u2212", "-");
var xAxis = g.append("g")
    .attr("transform", "translate(0," + plotH + ")")
    .call(d3.axisBottom(x).tickValues(xMajor).tickFormat(fmt).tickSize(7).tickPadding(5));
var yAxis = g.append("g")
    .call(d3.axisLeft(y).tickValues(yMajor).tickFormat(fmt).tickSize(7).tickPadding(6));

[xAxis, yAxis].forEach(function (ax) {
    ax.select(".domain").remove();
    ax.selectAll(".tick line").style("stroke", "#333").style("stroke-width", 1.6);
    ax.selectAll(".tick text")
        .style("font-family", "'Liberation Sans', Arial, sans-serif")
        .style("font-size", "23px")
        .style("fill", "#4d4d4d");
});

// axis titles
svg.append("text")
    .attr("x", margin.left + plotW / 2)
    .attr("y", 1071)
    .attr("text-anchor", "middle")
    .style("font-size", "28.5px")
    .style("fill", "#000")
    .text(xTitle);

svg.append("text")
    .attr("transform", "translate(35," + (margin.top + plotH / 2) + ") rotate(-90)")
    .attr("text-anchor", "middle")
    .style("font-size", "28.5px")
    .style("fill", "#000")
    .text(yTitle);

// legend, centred under the panel
var legend = svg.append("g");
var lt = legend.append("text")
    .attr("y", 1152)
    .style("font-size", "28.5px")
    .style("fill", "#000")
    .text(legendTitle);
var ll = legend.append("text")
    .attr("y", 1151)
    .style("font-size", "23px")
    .style("fill", "#000")
    .text(groups[0]);
var w1 = lt.node().getComputedTextLength();
var w2 = ll.node().getComputedTextLength();
var total = w1 + 29 + 18 + 27 + w2;
var lx = margin.left + plotW / 2 - total / 2;
lt.attr("x", lx);
legend.append("circle")
    .attr("cx", lx + w1 + 29 + 9)
    .attr("cy", 1142)
    .attr("r", 5.5)
    .style("fill", groupColour);
ll.attr("x", lx + w1 + 29 + 18 + 27);
</script>
</body>
</html>
